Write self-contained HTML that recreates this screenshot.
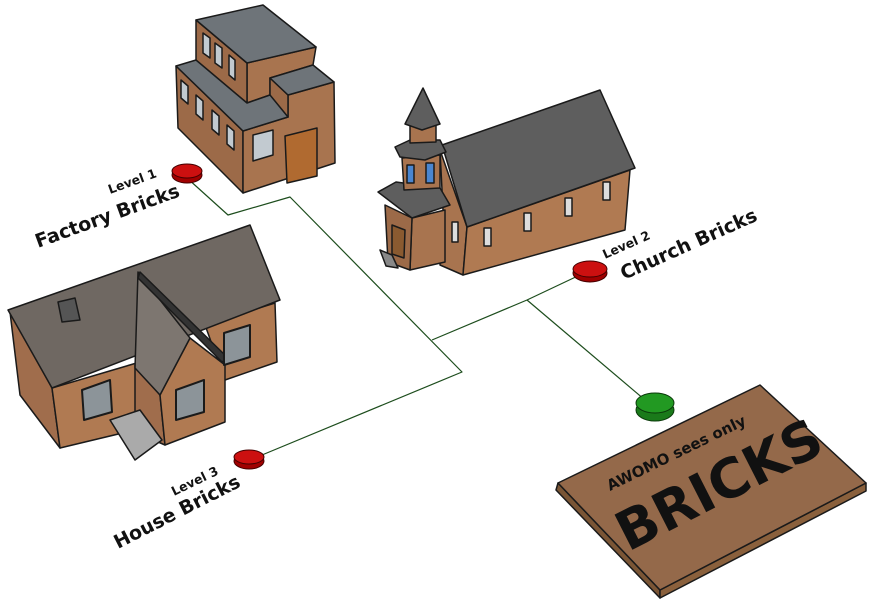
<!DOCTYPE html>
<html><head><meta charset="utf-8"><style>
html,body{margin:0;padding:0;background:#fff;}
svg{display:block;}
text{font-family:"DejaVu Sans","Liberation Sans",sans-serif;font-weight:bold;fill:#111;}
</style></head><body>
<svg width="871" height="599" viewBox="0 0 871 599" xmlns="http://www.w3.org/2000/svg">
<g stroke="#1a1a1a" stroke-width="1.5" stroke-linejoin="round">
<g stroke="#1d4d1d" stroke-width="1.2" fill="none">
<polyline points="187,178 228,215 290,197 462,372 262,455"/>
<polyline points="432,340 527,300 582,274"/>
<line x1="527" y1="300" x2="645" y2="400"/>
</g>
<!-- factory -->
<polygon points="176,66 243,131 243,193 178,128" fill="#9c6a48"/>
<polygon points="243,131 288,117 288,95 334,82 335,163 243,193" fill="#a8744f"/>
<polygon points="247,63 316,47 313,65 270,78 270,95 247,103" fill="#a8744f"/>
<polygon points="270,78 288,95 288,117 270,100" fill="#9c6a48"/>
<polygon points="196,20 247,63 247,103 196,62" fill="#9c6a48"/>
<polygon points="196,20 263,5 316,47 247,63" fill="#6e7479"/>
<polygon points="176,66 196,60 247,103 270,95 288,117 243,131" fill="#6e7479"/>
<polygon points="270,78 313,65 334,82 288,95" fill="#6e7479"/>
<polygon points="285,136 317,128 317,176 287,183" fill="#b06a30"/>
<polygon points="253,135 273,130 273,155 253,161" fill="#c2cad0"/>
<g fill="#c2cad0">
<polygon points="203,33 210,38 210,58 203,53"/><polygon points="215,43 222,48 222,68 215,63"/><polygon points="229,55 235,60 235,80 229,75"/>
<polygon points="181,80 188,86 188,104 181,98"/><polygon points="196,95 203,101 203,120 196,114"/><polygon points="212,110 219,116 219,135 212,129"/><polygon points="227,125 234,131 234,150 227,144"/>
</g>
<!-- church -->
<polygon points="440,150 467,227 463,275 440,265 443,210" fill="#a8744f"/>
<polygon points="467,227 630,170 625,230 463,275" fill="#b07a52"/>
<polygon points="442,145 600,90 635,168 467,227" fill="#5e5e5e"/>
<polygon points="412,218 445,210 445,262 410,270" fill="#a8744f"/>
<polygon points="385,205 412,218 410,270 388,262" fill="#9c6a48"/>
<polygon points="378,192 396,182 440,188 450,205 412,218" fill="#5e5e5e"/>
<polygon points="402,158 440,155 440,188 404,190" fill="#a8744f"/>
<polygon points="395,147 410,140 440,140 446,152 425,160 400,157" fill="#5e5e5e"/>
<polygon points="410,126 436,124 436,142 410,143" fill="#a8744f"/>
<polygon points="423,88 405,124 422,130 440,124" fill="#5e5e5e"/>
<polygon points="392,225 405,230 404,258 392,254" fill="#8a5a30"/>
<polygon points="380,250 392,255 398,268 386,266" fill="#888"/>
<g fill="#4a86d0"><rect x="407" y="165" width="7" height="18"/><rect x="426" y="163" width="8" height="20"/></g>
<g fill="#ddd"><rect x="452" y="222" width="6" height="20"/><rect x="484" y="228" width="7" height="18"/><rect x="524" y="213" width="7" height="18"/><rect x="565" y="198" width="7" height="18"/><rect x="603" y="182" width="7" height="18"/></g>
<!-- house -->
<polygon points="10,312 52,388 60,448 20,395" fill="#a06d4c"/>
<polygon points="52,388 140,362 135,430 60,448" fill="#b07a52"/>
<polygon points="205,325 275,303 277,362 225,380" fill="#b07a52"/>
<polygon points="8,310 250,225 280,300 52,388" fill="#6f6862"/>
<polygon points="135,365 160,395 165,445 135,432" fill="#a06d4c"/>
<polygon points="160,395 190,338 225,365 225,422 165,445" fill="#b07a52"/>
<polygon points="138,272 190,338 160,395 135,368" fill="#7d7670"/>
<polygon points="140,272 228,358 222,362 138,278" fill="#333"/>
<polygon points="58,302 75,298 80,320 62,322" fill="#555"/>
<polygon points="110,420 140,410 162,440 135,460" fill="#aaa"/>
<g fill="#8c9499" stroke-width="2">
<polygon points="82,390 110,380 112,412 84,420"/><polygon points="176,390 204,380 204,412 176,420"/><polygon points="224,333 250,325 250,357 224,365"/>
</g>
<!-- slab -->
<polygon points="558,483 660,590 660,598 556,490" fill="#7a5535"/>
<polygon points="660,590 866,483 866,491 660,598" fill="#8a603c"/>
<polygon points="558,483 760,385 866,483 660,590" fill="#94694a"/>
<g stroke="#400" stroke-width="1">
<ellipse cx="187" cy="175" rx="15" ry="8" fill="#a00000"/><ellipse cx="187" cy="171" rx="15" ry="7" fill="#cc1010"/>
<ellipse cx="590" cy="273" rx="17" ry="9" fill="#a00000"/><ellipse cx="590" cy="269" rx="17" ry="8" fill="#cc1010"/>
<ellipse cx="249" cy="461" rx="15" ry="8" fill="#a00000"/><ellipse cx="249" cy="457" rx="15" ry="7" fill="#cc1010"/>
</g>
<g stroke="#0a3a0a" stroke-width="1">
<ellipse cx="655" cy="410" rx="19" ry="11" fill="#1a7a1a"/><ellipse cx="655" cy="403" rx="19" ry="10" fill="#229922"/>
</g>
</g>
<text font-size="12.5" transform="translate(110,194) rotate(-20)">Level 1</text>
<text font-size="19" transform="translate(38,248) rotate(-20)">Factory Bricks</text>
<text font-size="12.5" transform="translate(605,259) rotate(-24)">Level 2</text>
<text font-size="19" transform="translate(624,280) rotate(-24)">Church Bricks</text>
<text font-size="12.5" transform="translate(174,496) rotate(-26)">Level 3</text>
<text font-size="19" transform="translate(118,549) rotate(-27)">House Bricks</text>
<text font-size="15" transform="translate(610,491) rotate(-26)">AWOMO sees only</text>
<text font-size="54" transform="translate(628,552) rotate(-27)">BRICKS</text>
</svg>
</body></html>
